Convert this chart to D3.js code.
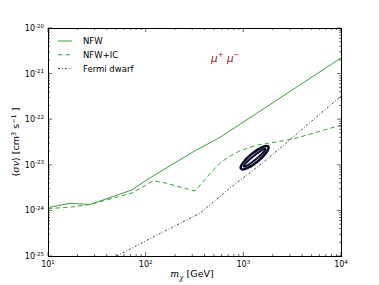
<!DOCTYPE html>
<html>
<head>
<meta charset="utf-8">
<script src="https://cdn.jsdelivr.net/npm/d3@7"></script>
<style>
  body { margin: 0; background: #fff; }
  text { font-family: "DejaVu Sans", sans-serif; }
</style>
</head>
<body>
<div id="chart"></div>
<script>
// data
var nfwMass  = [10, 16.8, 27, 72, 100, 140, 316, 577, 10000];
var nfwSigma = [1.15e-24, 1.43e-24, 1.35e-24, 2.8e-24, 4.5e-24, 7.0e-24, 2.0e-23, 4.0e-23, 2.2e-21];

var icMass  = [10, 16.8, 27, 72, 100, 119, 158, 320, 475, 600, 760, 925, 1370, 3160, 10000];
var icSigma = [1.1e-24, 1.17e-24, 1.35e-24, 2.4e-24, 3.55e-24, 4.47e-24, 4.0e-24, 2.66e-24, 7.1e-24, 1.17e-23, 1.62e-23, 2.04e-23, 2.69e-23, 3.63e-23, 7.4e-23];

var dwarfMass  = [50.5, 164, 360, 730, 1422, 2371, 3800, 10000];
var dwarfSigma = [1.0e-25, 3.7e-25, 8.7e-25, 3.1e-24, 9.3e-24, 2.3e-23, 5.5e-23, 3.2e-22];

// best-fit contour: centre, tip of major axis, minor/major ratio
var contourCentre = [1306, 1.43e-23];
var contourTip    = [1800, 2.5e-23];
var contourLevels = [{scale: 1.0, ratio: 0.27, width: 2.6}, {scale: 0.8, ratio: 0.14, width: 2}];

var xTicks = [1e1, 1e2, 1e3, 1e4];
var xTickExp = ["1", "2", "3", "4"];
var yTicks = [1e-25, 1e-24, 1e-23, 1e-22, 1e-21, 1e-20];
var yTickExp = ["-25", "-24", "-23", "-22", "-21", "-20"];

var legendNames = ["NFW", "NFW+IC", "Fermi dwarf"];

var margin = {top: 28, right: 38, bottom: 29, left: 48};
var width = 379 - margin.left - margin.right,
    height = 285 - margin.top - margin.bottom;

var green = "#3e9e3e";

var svg = d3.select("#chart").append("svg")
  .attr("width", 379).attr("height", 285);

var chart = svg.append("g")
  .attr("transform", "translate(" + margin.left + "," + margin.top + ")");

var x = d3.scaleLog().domain([10, 1e4]).range([0, width]);
var y = d3.scaleLog().domain([1e-25, 1e-20]).range([height, 0]);

chart.append("clipPath").attr("id", "clip")
  .append("rect").attr("width", width).attr("height", height);

var plot = chart.append("g").attr("clip-path", "url(#clip)");

var line = d3.line()
  .x(function(d) { return x(d[0]); })
  .y(function(d) { return y(d[1]); });

function pairs(a, b) { return a.map(function(v, i) { return [v, b[i]]; }); }

plot.append("path").datum(pairs(nfwMass, nfwSigma))
  .attr("d", line).attr("fill", "none")
  .attr("stroke", green).attr("stroke-width", 1);

plot.append("path").datum(pairs(icMass, icSigma))
  .attr("d", line).attr("fill", "none")
  .attr("stroke", green).attr("stroke-width", 1)
  .attr("stroke-dasharray", "4.5,3");

plot.append("path").datum(pairs(dwarfMass, dwarfSigma))
  .attr("d", line).attr("fill", "none")
  .attr("stroke", "#333").attr("stroke-width", 1)
  .attr("stroke-dasharray", "2,2,0.8,2");

// contour ellipses, built in pixel space from the data centre and tip
var cx = x(contourCentre[0]), cy = y(contourCentre[1]);
var tx = x(contourTip[0]), ty = y(contourTip[1]);
var semiMajor = Math.sqrt((tx - cx) * (tx - cx) + (ty - cy) * (ty - cy));
var angle = Math.atan2(ty - cy, tx - cx) * 180 / Math.PI;

plot.selectAll(".contour").data(contourLevels).enter()
  .append("ellipse")
  .attr("class", "contour")
  .attr("cx", cx).attr("cy", cy)
  .attr("rx", function(d) { return semiMajor * d.scale; })
  .attr("ry", function(d) { return semiMajor * d.scale * d.ratio; })
  .attr("transform", "rotate(" + angle + "," + cx + "," + cy + ")")
  .attr("fill", "none")
  .attr("stroke", "#0d0d2b")
  .attr("stroke-width", function(d) { return d.width; });

// frame
chart.append("rect").attr("width", width).attr("height", height)
  .attr("fill", "none").attr("stroke", "#000").attr("stroke-width", 1)
  .attr("shape-rendering", "crispEdges");

// ticks, all inward, on all four sides
function minorTicks(lo, hi) {
  var out = [];
  for (var e = lo; e < hi; e++) {
    for (var k = 2; k <= 9; k++) out.push(k * Math.pow(10, e));
  }
  return out;
}
var xMinor = minorTicks(1, 4);
var yMinor = minorTicks(-25, -20);

var ticks = chart.append("g").attr("stroke", "#000").attr("stroke-width", 0.6);

function xTickLines(vals, len) {
  vals.forEach(function(v) {
    var px = x(v);
    ticks.append("line").attr("x1", px).attr("x2", px).attr("y1", height).attr("y2", height - len);
    ticks.append("line").attr("x1", px).attr("x2", px).attr("y1", 0).attr("y2", len);
  });
}
function yTickLines(vals, len) {
  vals.forEach(function(v) {
    var py = y(v);
    ticks.append("line").attr("x1", 0).attr("x2", len).attr("y1", py).attr("y2", py);
    ticks.append("line").attr("x1", width).attr("x2", width - len).attr("y1", py).attr("y2", py);
  });
}
xTickLines(xTicks, 4);
xTickLines(xMinor, 2);
yTickLines(yTicks, 4);
yTickLines(yMinor, 2);

// tick labels
chart.selectAll(".xlab").data(xTicks).enter()
  .append("text").attr("class", "xlab")
  .attr("x", function(d) { return x(d); })
  .attr("y", height + 11)
  .attr("text-anchor", "middle")
  .attr("font-size", "8px")
  .each(function(d, i) {
    var t = d3.select(this);
    t.append("tspan").text("10");
    t.append("tspan").attr("dy", -3.5).attr("font-size", "5.5px").text(xTickExp[i]);
  });

chart.selectAll(".ylab").data(yTicks).enter()
  .append("text").attr("class", "ylab")
  .attr("x", -4)
  .attr("y", function(d) { return y(d) + 3; })
  .attr("text-anchor", "end")
  .attr("font-size", "8px")
  .each(function(d, i) {
    var t = d3.select(this);
    t.append("tspan").text("10");
    t.append("tspan").attr("dy", -3.5).attr("font-size", "5.5px").text(yTickExp[i]);
  });

// axis labels
var xl = svg.append("text")
  .attr("x", 192).attr("y", 277)
  .attr("text-anchor", "middle").attr("font-size", "9.5px");
xl.append("tspan").attr("font-style", "italic").attr("font-family", "DejaVu Serif").text("m");
xl.append("tspan").attr("dy", 2.5).attr("font-size", "7px").attr("font-style", "italic")
  .attr("font-family", "DejaVu Serif").text("χ");
xl.append("tspan").attr("dy", -2.5).text(" [GeV]");

var yl = svg.append("text")
  .attr("transform", "translate(19,142) rotate(-90)")
  .attr("text-anchor", "middle").attr("font-size", "9.5px");
yl.append("tspan").text("⟨");
yl.append("tspan").attr("font-style", "italic").attr("font-family", "DejaVu Serif").text("σv");
yl.append("tspan").text("⟩ [cm");
yl.append("tspan").attr("dy", -3.5).attr("font-size", "6.5px").text("3");
yl.append("tspan").attr("dy", 3.5).text(" s");
yl.append("tspan").attr("dy", -3.5).attr("font-size", "6.5px").text("−1");
yl.append("tspan").attr("dy", 3.5).text(" ]");

// legend
var legend = chart.append("g").attr("transform", "translate(10,13)");
var legendStyles = [
  {stroke: green, dash: null},
  {stroke: green, dash: "4.5,3"},
  {stroke: "#333", dash: "2,2,0.8,2"}
];
var rows = legend.selectAll("g").data(legendNames).enter()
  .append("g")
  .attr("transform", function(d, i) { return "translate(0," + (i * 13.8) + ")"; });
rows.append("line")
  .attr("x1", 0).attr("x2", 14).attr("y1", 0).attr("y2", 0)
  .attr("stroke", function(d, i) { return legendStyles[i].stroke; })
  .attr("stroke-width", 1)
  .attr("stroke-dasharray", function(d, i) { return legendStyles[i].dash; });
rows.append("text")
  .attr("x", 25).attr("y", 3)
  .attr("font-size", "8.5px")
  .text(function(d) { return d; });

// channel label
var ch = svg.append("text")
  .attr("x", 211).attr("y", 62)
  .attr("font-size", "10.5px").attr("fill", "#a02020")
  .attr("font-family", "DejaVu Serif").attr("font-style", "italic");
ch.append("tspan").text("μ");
ch.append("tspan").attr("dy", -5).attr("font-size", "7px").attr("font-style", "normal").text("+");
ch.append("tspan").attr("dy", 5).text(" μ");
ch.append("tspan").attr("dy", -5).attr("font-size", "7px").attr("font-style", "normal").text("−");
</script>
</body>
</html>
